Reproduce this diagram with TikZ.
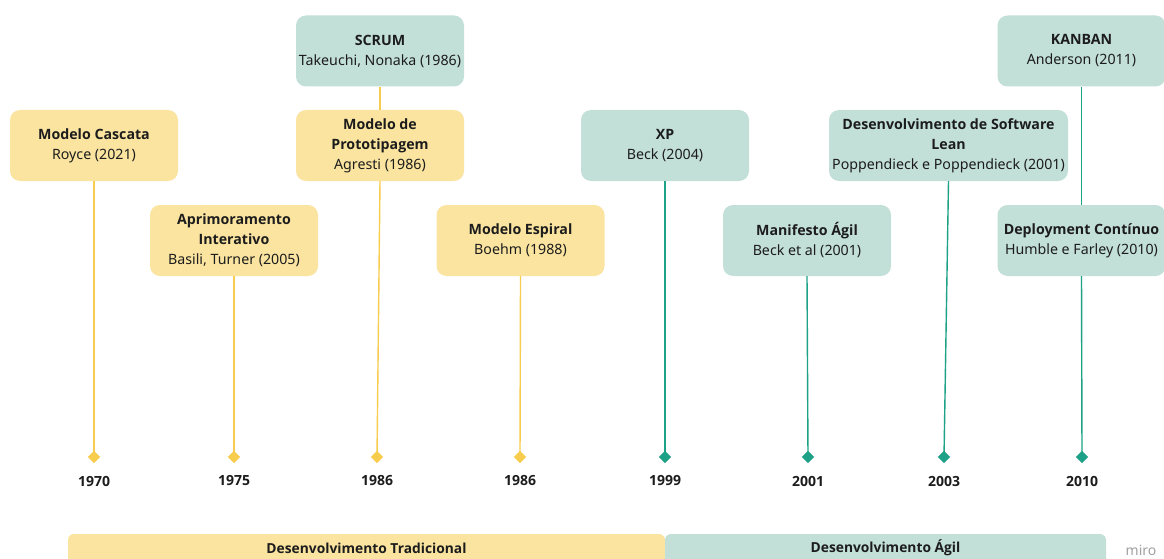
\documentclass[tikz,border=0pt]{standalone}
\usepackage{fontspec}
\setmainfont{Noto Sans}
\newfontfamily\osans{Open Sans}
\newcommand{\bt}[1]{{\osans\bfseries #1}}
\usetikzlibrary{shapes.geometric}
\definecolor{yfill}{HTML}{FAE4A0}
\definecolor{gfill}{HTML}{C3E0D8}
\definecolor{yline}{HTML}{F8CC4C}
\definecolor{gline}{HTML}{1EA287}
\definecolor{txt}{HTML}{1C1C1C}
\definecolor{mirogrey}{HTML}{A0A0A0}
\tikzset{
  box/.style={rectangle, rounded corners=10pt, minimum width=168pt, minimum height=71pt, align=center, font=\fontsize{14.2}{20}\selectfont, text=txt, inner sep=0pt},
  ybox/.style={box, fill=yfill},
  gbox/.style={box, fill=gfill},
  ylink/.style={draw=yline, line width=1.4pt},
  glink/.style={draw=gline, line width=1.4pt},
  ydia/.style={diamond, minimum size=12pt, inner sep=0pt, fill=yline},
  gdia/.style={diamond, minimum size=12pt, inner sep=0pt, fill=gline},
  year/.style={font=\fontsize{14}{16}\selectfont\osans\bfseries, text=txt},
  barlabel/.style={font=\fontsize{13.8}{16}\selectfont\osans\bfseries, text=txt}
}
\begin{document}
\begin{tikzpicture}[x=1pt,y=-1pt]
\clip (0,0) rectangle (1164,559);
\fill[white] (0,0) rectangle (1164,559);
% boxes
\node[ybox] (cascata) at (94,145.5) {\bt{Modelo Cascata}\\Royce (2021)};
\node[ybox] (aprim) at (234,240.5) {\bt{Aprimoramento}\\\bt{Interativo}\\Basili, Turner (2005)};
\node[gbox] (scrum) at (380,51) {\bt{SCRUM}\\Takeuchi, Nonaka (1986)};
\node[ybox] (proto) at (380,145.5) {\bt{Modelo de}\\\bt{Prototipagem}\\Agresti (1986)};
\node[ybox] (espiral) at (520.5,240.5) {\bt{Modelo Espiral}\\Boehm (1988)};
\node[gbox] (xp) at (665,145.5) {\bt{XP}\\Beck (2004)};
\node[gbox] (manif) at (807,240.5) {\bt{Manifesto Ágil}\\Beck et al (2001)};
\node[gbox, minimum width=239pt] (lean) at (948.5,145.5) {\bt{Desenvolvimento de Software}\\\bt{Lean}\\Poppendieck e Poppendieck (2001)};
\node[gbox] (kanban) at (1081.5,51) {\bt{KANBAN}\\Anderson (2011)};
\node[gbox] (deploy) at (1081.5,240.5) {\bt{Deployment Contínuo}\\Humble e Farley (2010)};
% diamonds
\node[ydia] (d1) at (94,457) {};
\node[ydia] (d2) at (234,457) {};
\node[ydia] (d3) at (377,457) {};
\node[ydia] (d4) at (520,457) {};
\node[gdia] (d5) at (665,457) {};
\node[gdia] (d6) at (808,457) {};
\node[gdia] (d7) at (944,457) {};
\node[gdia] (d8) at (1082,457) {};
% connectors
\draw[ylink] (cascata.south) -- (d1.center);
\draw[ylink] (aprim.south) -- (d2.center);
\draw[ylink] (scrum.south) -- (proto.north);
\draw[ylink] (proto.south) -- (d3.center);
\draw[ylink] (espiral.south) -- (d4.center);
\draw[glink] (xp.south) -- (d5.center);
\draw[glink] (manif.south) -- (d6.center);
\draw[glink] (lean.south) -- (d7.center);
\draw[glink] (kanban.south) -- (deploy.north);
\draw[glink] (deploy.south) -- (d8.center);
% redraw diamonds on top
\node[ydia] at (d1) {};
\node[ydia] at (d2) {};
\node[ydia] at (d3) {};
\node[ydia] at (d4) {};
\node[gdia] at (d5) {};
\node[gdia] at (d6) {};
\node[gdia] at (d7) {};
\node[gdia] at (d8) {};
% years
\node[year] (y1) at (94,481) {1970};
\node[year] (y2) at (234,481) {1975};
\node[year] (y3) at (377,481) {1986};
\node[year] (y4) at (520,481) {1986};
\node[year] (y5) at (665,481) {1999};
\node[year] (y6) at (808,481) {2001};
\node[year] (y7) at (944,481) {2003};
\node[year] (y8) at (1082,481) {2010};
% bottom bars
\fill[yfill, rounded corners=6pt] (68,534) rectangle (665,575);
\fill[gfill, rounded corners=6pt] (665,534) rectangle (1106,575);
\node[barlabel] (trad) at (366.5,548) {Desenvolvimento Tradicional};
\node[barlabel] (agil) at (885.5,548) {Desenvolvimento Ágil};
\node[font=\fontsize{14}{16}\selectfont, text=mirogrey] (miro) at (1141,550) {miro};
\end{tikzpicture}
\end{document}
